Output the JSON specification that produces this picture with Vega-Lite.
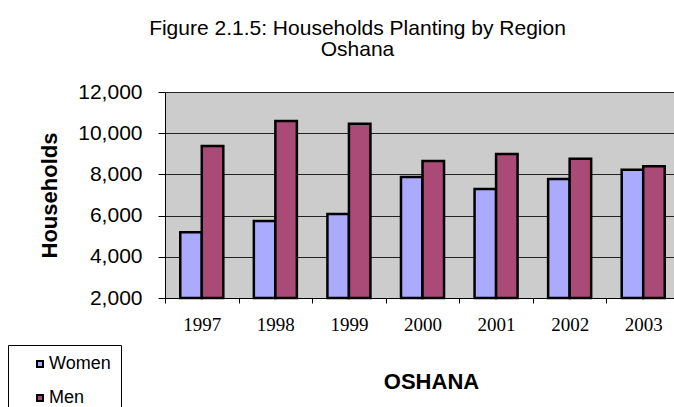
{
  "$schema": "https://vega.github.io/schema/vega-lite/v6.json",
  "width": 515,
  "height": 206,
  "autosize": {"type": "none"},
  "padding": {"left": 165, "top": 92, "right": -6, "bottom": 109},
  "background": "white",
  "title": {
    "text": ["Figure 2.1.5: Households Planting by Region", "Oshana"],
    "font": "Liberation Sans",
    "fontSize": 21,
    "fontWeight": "normal",
    "color": "black",
    "anchor": "middle",
    "dx": -65,
    "offset": 21,
    "lineHeight": 21
  },
  "data": {
    "values": [
      {"year": "1997", "sex": "Women", "households": 5190},
      {"year": "1997", "sex": "Men", "households": 9380},
      {"year": "1998", "sex": "Women", "households": 5740},
      {"year": "1998", "sex": "Men", "households": 10590},
      {"year": "1999", "sex": "Women", "households": 6080},
      {"year": "1999", "sex": "Men", "households": 10460},
      {"year": "2000", "sex": "Women", "households": 7870},
      {"year": "2000", "sex": "Men", "households": 8650},
      {"year": "2001", "sex": "Women", "households": 7290},
      {"year": "2001", "sex": "Men", "households": 8990},
      {"year": "2002", "sex": "Women", "households": 7780},
      {"year": "2002", "sex": "Men", "households": 8760},
      {"year": "2003", "sex": "Women", "households": 8230},
      {"year": "2003", "sex": "Men", "households": 8390}
    ]
  },
  "mark": {"type": "bar", "stroke": "black", "strokeWidth": 2.5},
  "encoding": {
    "x": {
      "field": "year",
      "type": "nominal",
      "scale": {"paddingInner": 0, "paddingOuter": 0},
      "axis": {
        "title": "OSHANA",
        "titleFont": "Liberation Sans",
        "titleFontSize": 22,
        "titleFontWeight": "bold",
        "titleColor": "black",
        "titlePadding": 37,
        "titleX": 266,
        "labelAngle": 0,
        "labelFont": "Liberation Serif",
        "labelFontSize": 19,
        "labelColor": "black",
        "labelPadding": 12,
        "tickBand": "extent",
        "tickSize": 5,
        "tickColor": "black",
        "domainColor": "black",
        "domainWidth": 1,
        "grid": false
      }
    },
    "xOffset": {
      "field": "sex",
      "type": "nominal",
      "sort": ["Women", "Men"],
      "scale": {"paddingInner": 0, "paddingOuter": 0.71}
    },
    "y": {
      "field": "households",
      "type": "quantitative",
      "scale": {"domain": [2000, 12000], "nice": false, "zero": false},
      "axis": {
        "title": "Households",
        "titleFont": "Liberation Sans",
        "titleFontSize": 22,
        "titleFontWeight": "bold",
        "titleColor": "black",
        "titlePadding": 16,
        "values": [2000, 4000, 6000, 8000, 10000, 12000],
        "format": ",.0f",
        "labelFont": "Liberation Sans",
        "labelFontSize": 21,
        "labelColor": "black",
        "labelPadding": 16,
        "tickSize": 7,
        "tickColor": "black",
        "domainColor": "black",
        "grid": true,
        "gridColor": "#222222",
        "gridWidth": 1
      }
    },
    "y2": {"datum": 2000},
    "color": {
      "field": "sex",
      "type": "nominal",
      "sort": ["Women", "Men"],
      "scale": {"domain": ["Women", "Men"], "range": ["#AAAAFF", "#AA4A77"]},
      "legend": {
        "title": null,
        "orient": "none",
        "legendX": -157,
        "legendY": 253,
        "strokeColor": "black",
        "fillColor": "white",
        "padding": 10,
        "symbolType": "square",
        "symbolSize": 36,
        "symbolStrokeColor": "black",
        "symbolStrokeWidth": 2,
        "symbolOffset": 13,
        "labelFont": "Liberation Sans",
        "labelFontSize": 18,
        "labelColor": "black",
        "labelOffset": 0,
        "rowPadding": 16
      }
    }
  },
  "config": {
    "view": {"fill": "#cccccc", "stroke": "#808080", "strokeWidth": 1}
  }
}
